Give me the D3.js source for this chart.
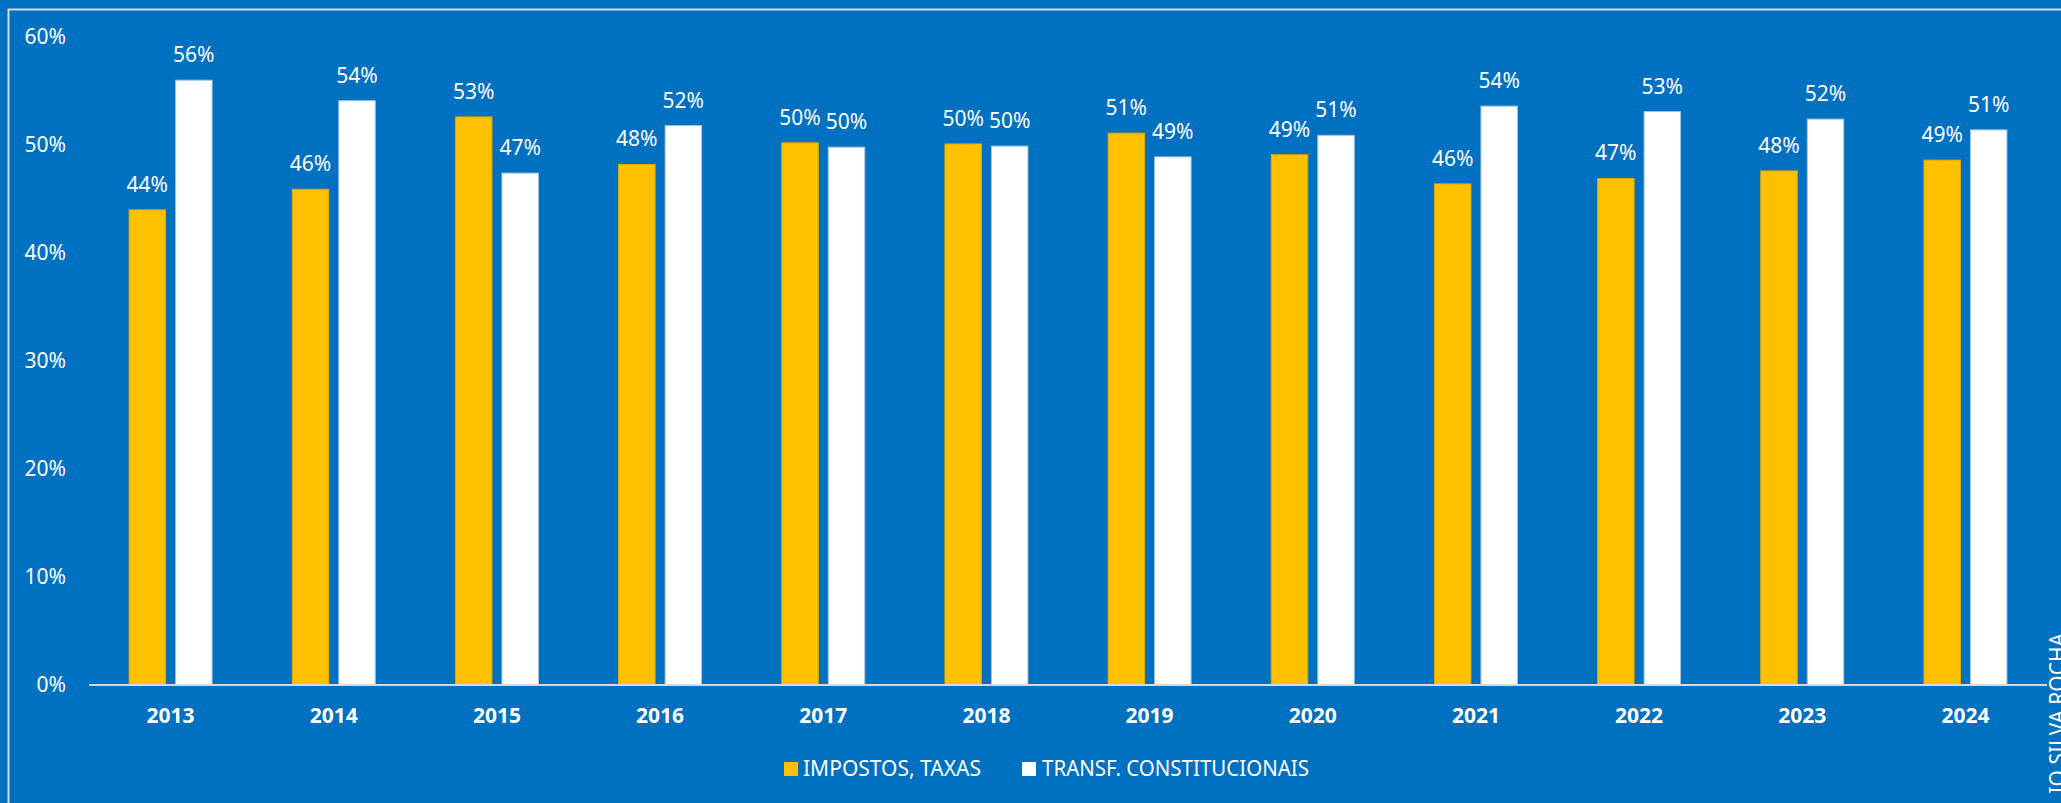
<!DOCTYPE html>
<html>
<head>
<meta charset="utf-8">
<script src="https://cdn.jsdelivr.net/npm/d3@7"></script>
<style>
  html, body { margin: 0; padding: 0; background: #0070C0; overflow: hidden; }
  svg { display: block; }
  text { font-family: "Noto Sans", "Open Sans", sans-serif; fill: #ffffff; }
</style>
</head>
<body>
<svg id="chart" width="2061" height="803"></svg>
<script>
const years = ["2013","2014","2015","2016","2017","2018","2019","2020","2021","2022","2023","2024"];
const seriesNames = ["IMPOSTOS, TAXAS", "TRANSF. CONSTITUCIONAIS"];
const impostos = [44.0, 45.9, 52.6, 48.2, 50.2, 50.1, 51.1, 49.1, 46.4, 46.9, 47.6, 48.6];
const transf   = [56.0, 54.1, 47.4, 51.8, 49.8, 49.9, 48.9, 50.9, 53.6, 53.1, 52.4, 51.4];
const yTicks = [0, 10, 20, 30, 40, 50, 60];
const colors = ["#FFC000", "#FFFFFF"];
const strokes = ["#E0A800", "#9DC3E6"];

const svg = d3.select("#chart");
const W = 2061, H = 803;

svg.append("rect").attr("width", W).attr("height", H).attr("fill", "#0070C0");
// outer frame (extends beyond the visible right/bottom edge)
svg.append("rect")
  .attr("x", 8.5).attr("y", 9.5).attr("width", W + 20).attr("height", H + 20)
  .attr("fill", "none").attr("stroke", "#D9D9D9").attr("stroke-width", 2);

const x0 = d3.scaleBand().domain(years).range([89, 2047]).padding(0);
const x1 = d3.scaleBand().domain(seriesNames).range([40.1, 123.1]).paddingInner(0.215).paddingOuter(0);
const y = d3.scaleLinear().domain([0, 60]).range([685, 37]);

const data = years.map((yr, i) => ({ year: yr, values: [
  { name: seriesNames[0], v: impostos[i], k: 0 },
  { name: seriesNames[1], v: transf[i], k: 1 }
]}));

// y tick labels
svg.append("g").selectAll("text").data(yTicks).join("text")
  .attr("x", 66).attr("y", d => y(d) + 1)
  .attr("text-anchor", "end").attr("dominant-baseline", "middle")
  .attr("font-size", 21)
  .text(d => d + "%");

// bars
const groups = svg.append("g").selectAll("g").data(data).join("g")
  .attr("transform", d => `translate(${x0(d.year)},0)`);

groups.selectAll("rect").data(d => d.values).join("rect")
  .attr("x", d => x1(d.name))
  .attr("y", d => y(d.v))
  .attr("width", x1.bandwidth())
  .attr("height", d => y(0) - y(d.v))
  .attr("fill", d => colors[d.k])
  .attr("stroke", d => strokes[d.k]).attr("stroke-width", 1);

groups.selectAll("text.val").data(d => d.values).join("text")
  .attr("class", "val")
  .attr("x", d => x1(d.name) + x1.bandwidth() / 2)
  .attr("y", d => y(d.v) - 18)
  .attr("text-anchor", "middle")
  .attr("font-size", 21)
  .text(d => Math.round(d.v) + "%");

// x axis line
svg.append("line")
  .attr("x1", 89).attr("x2", 2047).attr("y1", y(0)).attr("y2", y(0))
  .attr("stroke", "#D9D9D9").attr("stroke-width", 2);

// x labels
svg.append("g").selectAll("text").data(years).join("text")
  .attr("x", d => x0(d) + x0.bandwidth() / 2)
  .attr("y", 723)
  .attr("text-anchor", "middle")
  .attr("font-size", 21).attr("font-weight", "bold")
  .text(d => d);

// legend
const legendItems = [
  { name: seriesNames[0], k: 0, sx: 784, tx: 803, tw: 178 },
  { name: seriesNames[1], k: 1, sx: 1022, tx: 1042, tw: 267 }
];
const lg = svg.append("g");
lg.selectAll("rect").data(legendItems).join("rect")
  .attr("x", d => d.sx).attr("y", 762).attr("width", 14).attr("height", 14)
  .attr("fill", d => colors[d.k]);
lg.selectAll("text").data(legendItems).join("text")
  .attr("x", d => d.tx).attr("y", 776)
  .attr("font-size", 22.5)
  .attr("textLength", d => d.tw).attr("lengthAdjust", "spacingAndGlyphs")
  .text(d => d.name);

// rotated side text, cut off at the right edge
svg.append("text")
  .attr("transform", "translate(2065,633) rotate(-90)")
  .attr("text-anchor", "end")
  .attr("font-size", 21)
  .text("IO SILVA ROCHA");
</script>
</body>
</html>
